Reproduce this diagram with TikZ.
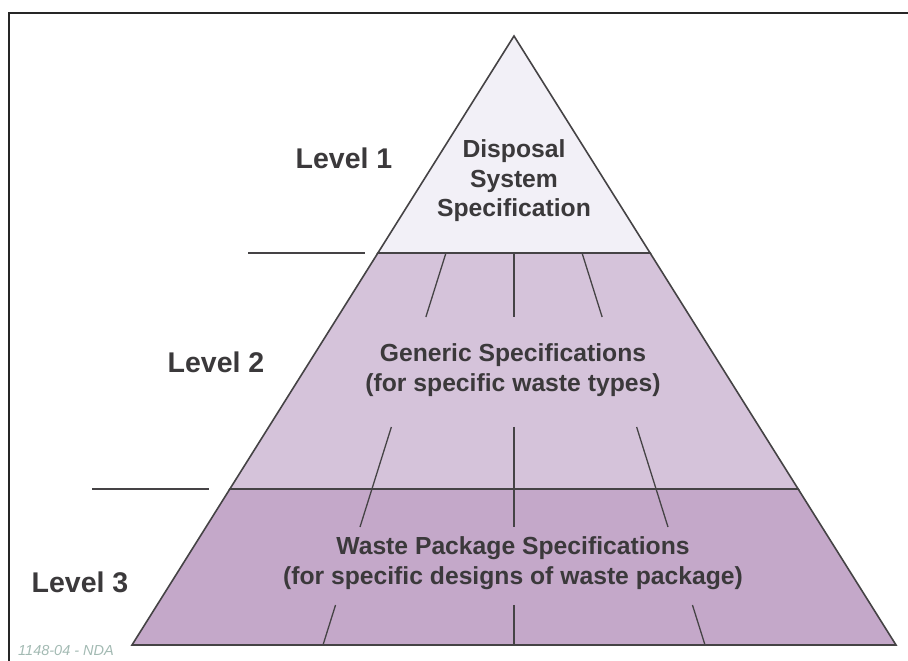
\documentclass[tikz,border=0pt]{standalone}
\usepackage{fontspec}
\setmainfont{Liberation Sans}
\usepackage{xcolor}
\definecolor{tierOne}{HTML}{F2F0F7}
\definecolor{tierTwo}{HTML}{D5C3DA}
\definecolor{tierThree}{HTML}{C4A8C9}
\definecolor{edgeGray}{HTML}{454345}
\definecolor{textGray}{HTML}{3B393B}
\definecolor{tagGray}{HTML}{A3BAB3}
\usetikzlibrary{calc}

\begin{document}
\begin{tikzpicture}[x=1pt, y=-1pt,
		edge/.style={draw=edgeGray, line width=1.6pt, line join=miter},
		tick/.style={draw=edgeGray, line width=1.3pt},
		levelLabel/.style={text=textGray, font=\bfseries\fontsize{28.5}{32}\selectfont},
		specText/.style={text=textGray, align=center, font=\bfseries\fontsize{24.7}{29.5}\selectfont},
		tagText/.style={text=tagGray, inner sep=1pt, font=\itshape\fontsize{14.5}{17}\selectfont}]
			\useasboundingbox (0,0) rectangle (908,661);

			% Corners of the pyramid
			\coordinate (apex) at (514,36);
			\coordinate (baseL) at (132,645);
			\coordinate (baseR) at (896,645);
			\coordinate (oneL) at ($(apex)!0.3563!(baseL)$);
			\coordinate (oneR) at ($(apex)!0.3563!(baseR)$);
			\coordinate (twoL) at ($(apex)!0.7438!(baseL)$);
			\coordinate (twoR) at ($(apex)!0.7438!(baseR)$);

			% Feet of the rays on the base
			\coordinate (rayL) at (323,645);
			\coordinate (rayM) at (514,645);
			\coordinate (rayR) at (705,645);

			% Tiers
			\draw[edge, fill=tierThree] (twoL) -- (twoR) -- (baseR) -- (baseL) -- cycle;
			\draw[edge, fill=tierTwo] (oneL) -- (oneR) -- (twoR) -- (twoL) -- cycle;
			\draw[edge, fill=tierOne] (apex) -- (oneR) -- (oneL) -- cycle;

			% Short ticks along the rays
			\foreach \a/\b in {0.3563/0.4614, 0.6420/0.7438, 0.7438/0.8062, 0.9343/1}
			\foreach \f in {rayL, rayM, rayR}
			\draw[tick] ($(apex)!\a!(\f)$) -- ($(apex)!\b!(\f)$);

			% Level markers on the left
			\coordinate (markOneA) at (248,253);
			\coordinate (markOneB) at (365,253);
			\coordinate (markTwoA) at (92,489);
			\coordinate (markTwoB) at (209,489);
			\draw[edge] (markOneA) -- (markOneB);
			\draw[edge] (markTwoA) -- (markTwoB);

			% Frame
			\draw[line width=1.5pt, draw=black!85] (908,13) -- (9,13) -- (9,661);

			% Labels for levels
			\node[levelLabel] (lvlOne) at (344,158) {Level 1};
			\node[levelLabel] (lvlTwo) at (216,362) {Level 2};
			\node[levelLabel] (lvlThree) at (80,582) {Level 3};

			% Text in the tiers
			\node[specText] (specOne) at (514,181) {Disposal\\System\\Specification};
			\node[specText] (specTwo) at (513,370) {Generic Specifications\\(for specific waste types)};
			\node[specText] (specThree) at (513,563) {Waste Package Specifications\\(for specific designs of waste package)};

			\node[tagText, anchor=west] (tag) at (17,651) {1148-04 - NDA};
		\end{tikzpicture}
\end{document}
